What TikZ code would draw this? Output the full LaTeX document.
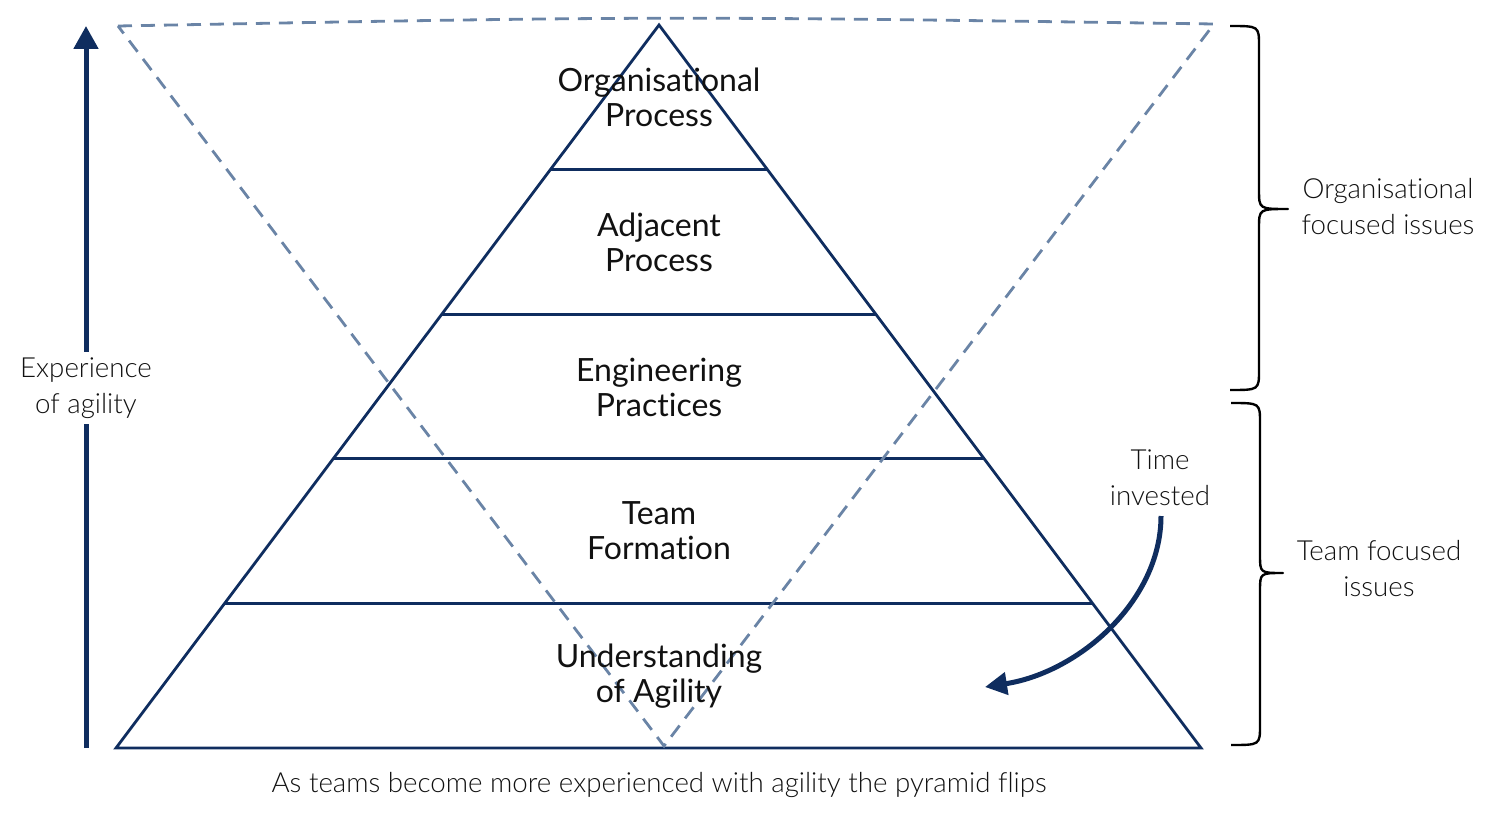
\documentclass[tikz,border=0pt]{standalone}
\usepackage{fontspec}
\setmainfont{Lato}[RawFeature=-liga]
\newfontfamily\lightfont{Lato Light}[RawFeature=-liga]
\usetikzlibrary{arrows.meta,calc}
\definecolor{navy}{HTML}{0F2D5F}
\definecolor{dashblue}{HTML}{6A84A6}
\definecolor{txt}{HTML}{111111}
\tikzset{
  pyr/.style={draw=navy, line width=2.8pt, line join=miter},
  flip/.style={draw=dashblue, line width=2.8pt, dash pattern=on 14pt off 9pt},
  lvl/.style={align=center, font=\fontsize{32}{35}\selectfont, text=txt, inner sep=0pt},
  side/.style={align=center, font=\lightfont\fontsize{27.7}{36}\selectfont, text=txt, inner sep=0pt},
  bigarrow/.style={draw=navy, line width=5pt, -{Triangle[width=24pt,length=23pt]}},
  bracestyle/.style={draw=black, line width=2.4pt, line join=round}
}
\begin{document}
\begin{tikzpicture}[x=1pt,y=-1pt]
\useasboundingbox (0,0) rectangle (1498,821);
% pyramid
\coordinate (apex) at (659,25);
\coordinate (bl) at (116,748);
\coordinate (br) at (1201,748);
\draw[pyr] (apex) -- (bl) -- (br) -- cycle;
\foreach \f in {0.2,0.4,0.6,0.8}{
  \draw[pyr] ($(apex)!\f!(bl)$) -- ($(apex)!\f!(br)$);
}
% inverted dashed triangle
\coordinate (tl) at (118,26);
\coordinate (tr) at (1214,24);
\coordinate (bot) at (664,746);
\draw[flip] (tl) .. controls (660,16) .. (tr) -- (bot) -- cycle;
% level labels
\node[lvl] (l1) at (659,97) {Organisational\\Process};
\node[lvl] (l2) at (659,242) {Adjacent\\Process};
\node[lvl] (l3) at (659,387) {Engineering\\Practices};
\node[lvl] (l4) at (659,531) {Team\\Formation};
\node[lvl] (l5) at (659,676) {Understanding\\of Agility};
% experience arrow
\coordinate (abot) at (86,748);
\coordinate (atop) at (86,26);
\draw[bigarrow] (abot) -- (atop);
\node[side, fill=white, inner sep=6pt] (exp) at (86,388) {Experience\\of agility};
% time invested
\node[side] (time) at (1160,478) {Time\\invested};
\coordinate (tstart) at (1161,516);
\coordinate (tgt) at (985,687);
\draw[bigarrow, -{Triangle[width=22pt,length=22pt]}] (tstart) .. controls (1161,600) and (1080,672) .. (tgt);
% braces
\draw[bracestyle] (1230,26) .. controls (1259,26) .. (1259,46) -- (1259,190)
  .. controls (1259,209) .. (1288,209) .. controls (1259,209) .. (1259,228)
  -- (1259,370) .. controls (1259,390) .. (1230,390);
\draw[bracestyle] (1231,403) .. controls (1260,403) .. (1260,423) -- (1260,555)
  .. controls (1260,573) .. (1283,573) .. controls (1260,573) .. (1260,591)
  -- (1260,725) .. controls (1260,745) .. (1231,745);
\node[side] (org) at (1388,207) {Organisational\\focused issues};
\node[side] (team) at (1379,569) {Team focused\\issues};
% caption
\node[side] (cap) at (659,785) {As teams become more experienced with agility the pyramid flips};
\end{tikzpicture}
\end{document}
